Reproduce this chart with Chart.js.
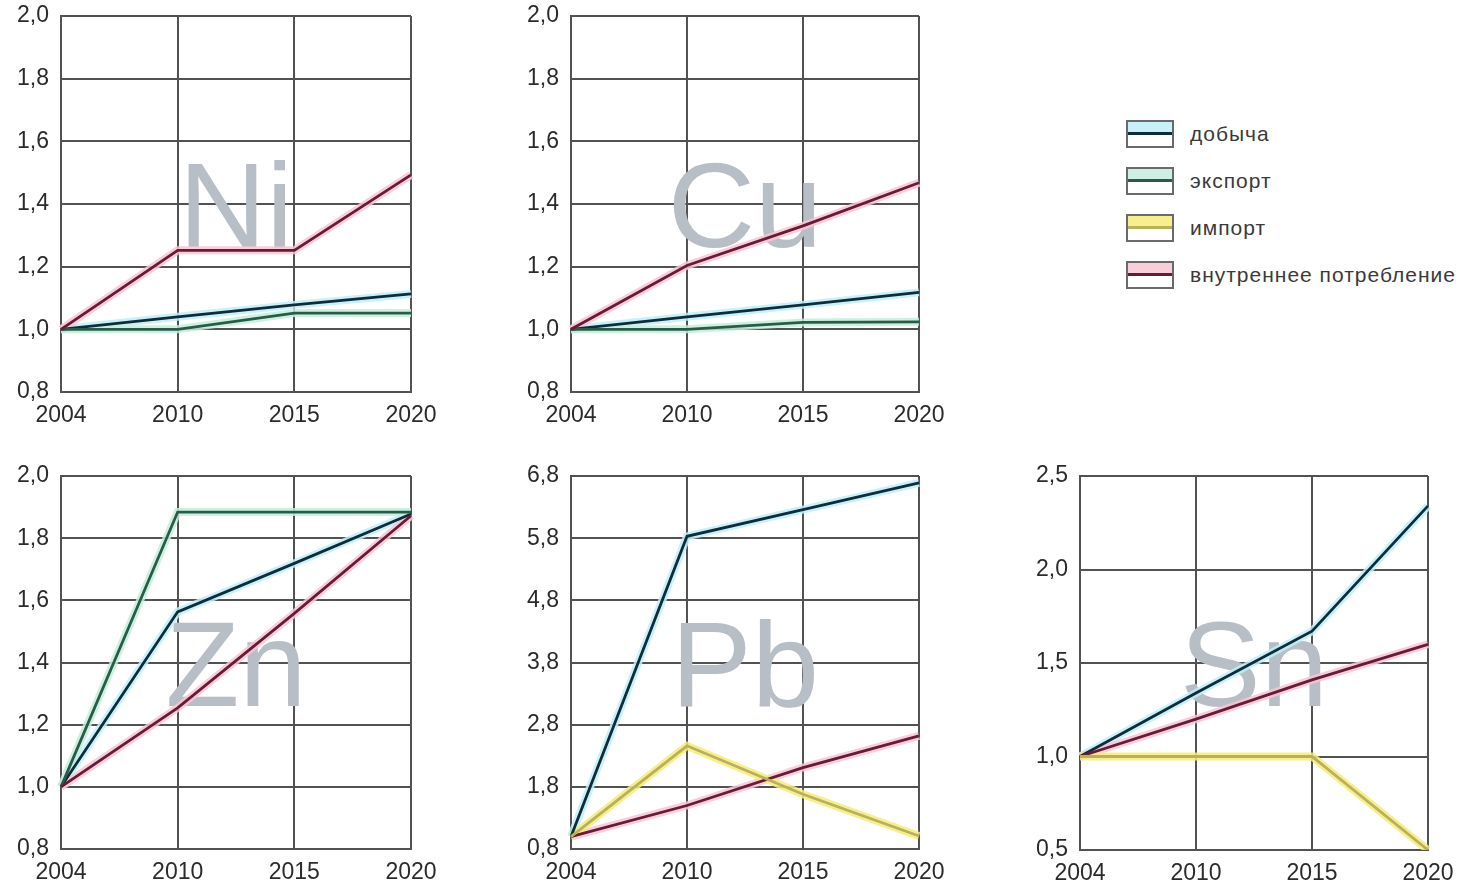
<!DOCTYPE html>
<html>
<head>
<meta charset="utf-8">
<script src="https://cdn.jsdelivr.net/npm/chart.js@4/dist/chart.umd.min.js"></script>
<style>
  body { margin: 0; width: 1470px; height: 887px; background: #fff; position: relative; overflow: hidden; font-family: "Liberation Sans", Arial, sans-serif; }
  .panel { position: absolute; }
  #legend { position: absolute; left: 1126px; top: 110px; }
  .item { display: flex; align-items: center; height: 47px; }
  .swatch { width: 44px; height: 24px; border: 2px solid #6a6a6a; margin-right: 16px; }
  .item span { font-size: 21px; color: #3a3a3a; letter-spacing: 1px; }
</style>
</head>
<body>
<div class="panel" style="left:0;top:0;width:450px;height:440px"><canvas id="ni"></canvas></div>
<div class="panel" style="left:500px;top:0;width:450px;height:440px"><canvas id="cu"></canvas></div>
<div class="panel" style="left:0;top:460px;width:450px;height:427px"><canvas id="zn"></canvas></div>
<div class="panel" style="left:500px;top:460px;width:450px;height:427px"><canvas id="pb"></canvas></div>
<div class="panel" style="left:1010px;top:460px;width:460px;height:427px"><canvas id="sn"></canvas></div>
<div id="legend"></div>

<script>
// DATA
const years = ['2004', '2010', '2015', '2020'];
const seriesNames = ['добыча', 'экспорт', 'импорт', 'внутреннее потребление'];

const niTicks = [0.8, 1.0, 1.2, 1.4, 1.6, 1.8, 2.0];
const niMining = [1.0, 1.04, 1.078, 1.113];
const niExport = [1.0, 1.0, 1.052, 1.052];
const niConsumption = [1.0, 1.252, 1.252, 1.493];

const cuTicks = [0.8, 1.0, 1.2, 1.4, 1.6, 1.8, 2.0];
const cuMining = [1.0, 1.04, 1.078, 1.118];
const cuExport = [1.0, 1.0, 1.022, 1.024];
const cuConsumption = [1.0, 1.204, 1.33, 1.468];

const znTicks = [0.8, 1.0, 1.2, 1.4, 1.6, 1.8, 2.0];
const znMining = [1.0, 1.563, 1.719, 1.878];
const znExport = [1.0, 1.884, 1.884, 1.884];
const znConsumption = [1.0, 1.254, 1.558, 1.872];

const pbTicks = [0.8, 1.8, 2.8, 3.8, 4.8, 5.8, 6.8];
const pbMining = [1.0, 5.83, 6.26, 6.69];
const pbImport = [1.0, 2.46, 1.68, 1.01];
const pbConsumption = [1.0, 1.5, 2.11, 2.62];

const snTicks = [0.5, 1.0, 1.5, 2.0, 2.5];
const snMining = [1.0, 1.34, 1.67, 2.34];
const snImport = [1.0, 1.0, 1.0, 0.5];
const snConsumption = [1.0, 1.2, 1.41, 1.6];

// STYLES
const styles = {
    'добыча': { line: '#0e2c3a', glow: 'rgba(190,238,248,0.85)' },
    'экспорт': { line: '#285c48', glow: 'rgba(195,238,220,0.85)' },
    'импорт': { line: '#b9b159', glow: 'rgba(245,236,120,0.85)' },
    'внутреннее потребление': { line: '#681a37', glow: 'rgba(248,196,212,0.85)' }
};
const fontFamily = '"Liberation Sans", Arial, sans-serif';
const gridColor = '#525252';

// big element symbol behind the lines
const symbolPlugin = {
    id: 'symbol',
    beforeDatasetsDraw(chart, args, opts) {
        const ctx = chart.ctx;
        const a = chart.chartArea;
        ctx.save();
        ctx.font = '121px ' + fontFamily;
        ctx.fillStyle = '#b7bec6';
        ctx.textAlign = 'center';
        ctx.textBaseline = 'alphabetic';
        ctx.fillText(opts.text, (a.left + a.right) / 2, (a.top + a.bottom) / 2 + 43);
        ctx.restore();
    }
};

function makeChart(id, symbol, ticks, series, yWidth, xHeight, padRight) {
    const datasets = [];
    series.forEach(([name, values]) => {
        datasets.push({ label: name, data: values, borderColor: styles[name].glow, borderWidth: 8, pointRadius: 0, order: 2 });
        datasets.push({ label: name, data: values, borderColor: styles[name].line, borderWidth: 2.8, pointRadius: 0, order: 1 });
    });
    return new Chart(document.getElementById(id), {
        type: 'line',
        data: { labels: years, datasets: datasets },
        plugins: [symbolPlugin],
        options: {
            responsive: true,
            maintainAspectRatio: false,
            animation: false,
            layout: { padding: { top: 16, right: padRight, left: 0, bottom: 0 } },
            plugins: {
                legend: { display: false },
                tooltip: { enabled: false },
                symbol: { text: symbol }
            },
            scales: {
                x: {
                    offset: false,
                    grid: { color: gridColor, lineWidth: 2, drawTicks: false },
                    border: { color: gridColor, width: 2 },
                    ticks: { padding: 10, color: '#2b2b2b', font: { size: 23, family: fontFamily }, maxRotation: 0, autoSkip: false },
                    afterFit: s => { s.height = xHeight; s.paddingLeft = 0; s.paddingRight = 0; }
                },
                y: {
                    min: ticks[0],
                    max: ticks[ticks.length - 1],
                    afterBuildTicks: s => { s.ticks = ticks.map(v => ({ value: v })); },
                    grid: { color: gridColor, lineWidth: 2, drawTicks: false },
                    border: { color: gridColor, width: 2 },
                    ticks: {
                        padding: 12, color: '#2b2b2b', font: { size: 23, family: fontFamily },
                        callback: v => v.toFixed(1).replace('.', ',')
                    },
                    afterFit: s => { s.width = yWidth; s.paddingTop = 0; s.paddingBottom = 0; }
                }
            }
        }
    });
}

makeChart('ni', 'Ni', niTicks, [['внутреннее потребление', niConsumption], ['экспорт', niExport], ['добыча', niMining]], 61, 48, 39);
makeChart('cu', 'Cu', cuTicks, [['внутреннее потребление', cuConsumption], ['экспорт', cuExport], ['добыча', cuMining]], 71, 48, 31);
makeChart('zn', 'Zn', znTicks, [['внутреннее потребление', znConsumption], ['экспорт', znExport], ['добыча', znMining]], 61, 38, 39);
makeChart('pb', 'Pb', pbTicks, [['импорт', pbImport], ['внутреннее потребление', pbConsumption], ['добыча', pbMining]], 71, 38, 31);
makeChart('sn', 'Sn', snTicks, [['импорт', snImport], ['внутреннее потребление', snConsumption], ['добыча', snMining]], 70, 37, 42);

// LEGEND
const legend = document.getElementById('legend');
seriesNames.forEach(name => {
    const item = document.createElement('div');
    item.className = 'item';
    const sw = document.createElement('div');
    sw.className = 'swatch';
    const g = styles[name].glow, l = styles[name].line;
    sw.style.background = `linear-gradient(to bottom, ${g} 0, ${g} 10px, ${l} 10px, ${l} 13px, #fff 13px, #fff 100%)`;
    const txt = document.createElement('span');
    txt.textContent = name;
    item.appendChild(sw);
    item.appendChild(txt);
    legend.appendChild(item);
});
</script>
</body>
</html>
